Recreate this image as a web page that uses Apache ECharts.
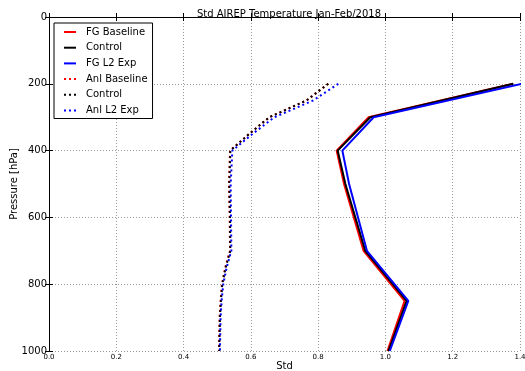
<!DOCTYPE html>
<html><head><meta charset="utf-8">
<script src="https://cdn.jsdelivr.net/npm/echarts@6/dist/echarts.min.js"></script>
<style>html,body{margin:0;padding:0;background:#fff}#c{width:525px;height:371px}</style>
</head><body><div id="c"></div>
<script>
// Pressure levels (hPa)
const fgLevels = [200, 300, 400, 500, 700, 850, 1000];
const fgBaseline = [1.38, 0.950, 0.855, 0.877, 0.935, 1.057, 1.006];
const fgControl  = [1.38, 0.955, 0.858, 0.881, 0.940, 1.063, 1.009];
const fgL2Exp    = [1.405, 0.965, 0.872, 0.892, 0.945, 1.068, 1.013];

const anlLevels   = [200, 250, 300, 350, 400, 500, 600, 700, 750, 800, 850, 900, 1000];
const anlBaseline = [0.830, 0.765, 0.655, 0.595, 0.538, 0.535, 0.537, 0.538, 0.524, 0.514, 0.510, 0.507, 0.505];
const anlControl  = [0.830, 0.765, 0.655, 0.595, 0.539, 0.536, 0.538, 0.539, 0.525, 0.515, 0.511, 0.508, 0.506];
const anlL2Exp    = [0.860, 0.785, 0.670, 0.605, 0.545, 0.540, 0.541, 0.542, 0.528, 0.518, 0.513, 0.510, 0.508];

function pairs(xs, ps){ return xs.map((v,i)=>[v, ps[i]]); }
function solid(name, color, xs, ps){
  return {name, type:'line', data:pairs(xs,ps), symbol:'none', xAxisIndex:0, yAxisIndex:0,
    lineStyle:{color, width:2}, itemStyle:{color}, animation:false};
}
function dotted(name, color, xs, ps){
  return {name, type:'line', data:pairs(xs,ps), symbol:'none', xAxisIndex:0, yAxisIndex:0,
    lineStyle:{color, width:2, type:[2,3], cap:'butt'}, itemStyle:{color}, animation:false};
}
const F = 'DejaVu Sans';
const chart = echarts.init(document.getElementById('c'));
chart.setOption({
  backgroundColor:'#fff',
  animation:false,
  title:{text:'Std AIREP Temperature Jan-Feb/2018', left:284, top:4, textAlign:'center',
    textStyle:{fontFamily:F, fontSize:10, fontWeight:'normal', color:'#000'}},
  grid:{left:49, right:5, top:17, bottom:20, outerBoundsMode:'none', containLabel:false},
  legend:{orient:'vertical', left:54, top:23, backgroundColor:'#fff', borderColor:'#000', borderWidth:1,
    padding:[4,5,3,9], itemWidth:12, itemHeight:10, itemGap:5.7,
    itemStyle:{opacity:0},
    formatter: n => n.trim(),
    textStyle:{fontFamily:F, fontSize:10, color:'#000', padding:[0,0,0,5]},
    data:['FG Baseline','Control','FG L2 Exp','Anl Baseline','Control ','Anl L2 Exp']},
  xAxis:[{type:'value', min:0, max:1.4, interval:0.2, position:'bottom',
    name:'Std', nameLocation:'middle', nameGap:10, nameMoveOverlap:false,
    nameTextStyle:{fontFamily:F, fontSize:10, color:'#000'},
    axisLine:{show:true, lineStyle:{color:'#000', width:1}},
    axisTick:{show:true, inside:true, length:4, lineStyle:{color:'#000'}},
    axisLabel:{fontFamily:F, fontSize:7, color:'#000', margin:3, formatter:(v)=>v.toFixed(1)},
    splitLine:{show:true, lineStyle:{color:'#999', type:[1,2], width:1}}},
   {type:'value', min:0, max:1.4, interval:0.2, position:'top',
    axisLine:{show:true, lineStyle:{color:'#000', width:1}},
    axisTick:{show:true, inside:true, length:4, lineStyle:{color:'#000'}},
    axisLabel:{show:false}, splitLine:{show:false}}],
  yAxis:[{type:'value', min:0, max:1000, interval:200, inverse:true, position:'left',
    name:'Pressure [hPa]', nameLocation:'middle', nameGap:30, nameRotate:90, nameMoveOverlap:false,
    nameTextStyle:{fontFamily:F, fontSize:10, color:'#000'},
    axisLine:{show:true, lineStyle:{color:'#000', width:1}},
    axisTick:{show:true, inside:true, length:4, lineStyle:{color:'#000'}},
    axisLabel:{fontFamily:F, fontSize:10, color:'#000', margin:2, formatter:(v)=>String(v)},
    splitLine:{show:true, lineStyle:{color:'#999', type:[1,2], width:1}}},
   {type:'value', min:0, max:1000, interval:200, inverse:true, position:'right',
    axisLine:{show:true, lineStyle:{color:'#000', width:1}},
    axisTick:{show:true, inside:true, length:4, lineStyle:{color:'#000'}},
    axisLabel:{show:false}, splitLine:{show:false}}],
  series:[
    solid('FG Baseline', '#ff0000', fgBaseline, fgLevels),
    solid('Control', '#000000', fgControl, fgLevels),
    solid('FG L2 Exp', '#0000ff', fgL2Exp, fgLevels),
    dotted('Anl Baseline', '#ff0000', anlBaseline, anlLevels),
    dotted('Control ', '#000000', anlControl, anlLevels),
    dotted('Anl L2 Exp', '#0000ff', anlL2Exp, anlLevels)
  ]
});
</script></body></html>
